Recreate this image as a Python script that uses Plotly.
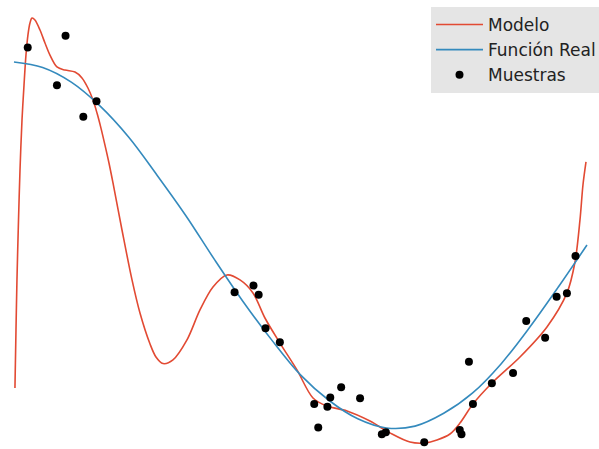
import plotly.graph_objects as go

# Sample points (x, y)
muestras_x = [0.024, 0.075, 0.090, 0.121, 0.144, 0.385, 0.418, 0.427, 0.439, 0.464,
              0.524, 0.531, 0.547, 0.552, 0.571, 0.604, 0.642, 0.649, 0.716, 0.778,
              0.781, 0.794, 0.801, 0.834, 0.871, 0.894, 0.927, 0.947, 0.965, 0.980]
muestras_y = [1.080, 0.873, 1.144, 0.701, 0.786, -0.258, -0.222, -0.272, -0.455, -0.532,
              -0.869, -0.998, -0.884, -0.834, -0.778, -0.838, -1.034, -1.024, -1.078, -1.011,
              -1.034, -0.638, -0.869, -0.756, -0.699, -0.415, -0.507, -0.283, -0.264, -0.060]

# True function sampled along x
real_x = [0.00, 0.05, 0.10, 0.15, 0.20, 0.25, 0.30, 0.35, 0.40, 0.45, 0.50,
          0.55, 0.60, 0.65, 0.70, 0.75, 0.80, 0.85, 0.90, 0.95, 1.00]
real_y = [1.00, 0.97, 0.89, 0.76, 0.59, 0.38, 0.16, -0.08, -0.31, -0.52, -0.71,
          -0.85, -0.95, -1.00, -0.99, -0.92, -0.81, -0.65, -0.45, -0.23, 0.00]

# Fitted model curve
modelo_x = [0.0017, 0.0035, 0.0052, 0.0079, 0.0105, 0.0140, 0.0175, 0.0209, 0.0244, 0.0279,
            0.0314, 0.0366, 0.0454, 0.0541, 0.0628, 0.0750, 0.0890, 0.1065, 0.1187, 0.1291,
            0.1379, 0.1449, 0.1518, 0.1588, 0.1658, 0.1728, 0.1885, 0.2060, 0.2199, 0.2373,
            0.2478, 0.2600, 0.2775, 0.3019,
            0.3246, 0.3473, 0.3717, 0.3944, 0.4171, 0.4380, 0.4642, 0.4939, 0.5218, 0.5462,
            0.5812, 0.6213, 0.6562, 0.6911, 0.7173, 0.7382, 0.7609, 0.7784, 0.8010, 0.8342,
            0.8831, 0.9302, 0.9651, 0.9791, 0.9878, 0.9930, 0.9983]
modelo_y = [-0.781, -0.464, -0.191, 0.137, 0.410, 0.683, 0.874, 1.038, 1.148, 1.213,
            1.240, 1.230, 1.175, 1.104, 1.038, 0.973, 0.956, 0.945, 0.913, 0.858,
            0.792, 0.721, 0.639, 0.546, 0.448, 0.339, 0.082, -0.191, -0.372, -0.540,
            -0.612, -0.648, -0.628, -0.519,
            -0.355, -0.230, -0.164, -0.191, -0.262, -0.399, -0.536, -0.683, -0.836, -0.880,
            -0.907, -0.962, -1.027, -1.077, -1.082, -1.066, -1.033, -0.973, -0.869, -0.754,
            -0.612, -0.448, -0.262, -0.093, 0.137, 0.328, 0.454]

fig = go.Figure()
fig.add_trace(go.Scatter(x=modelo_x, y=modelo_y, mode="lines", name="Modelo",
                         line=dict(color="#E24A33", width=1.6, shape="spline", smoothing=0.9)))
fig.add_trace(go.Scatter(x=real_x, y=real_y, mode="lines", name="Función Real",
                         line=dict(color="#348ABD", width=1.6, shape="spline")))
fig.add_trace(go.Scatter(x=muestras_x, y=muestras_y, mode="markers", name="Muestras",
                         marker=dict(color="black", size=8)))

fig.update_layout(
    width=599, height=449,
    margin=dict(l=0, r=0, t=0, b=0, autoexpand=False),
    paper_bgcolor="white", plot_bgcolor="white",
    xaxis=dict(visible=False, range=[-0.0244, 1.021]),
    yaxis=dict(visible=False, range=[-1.115, 1.339]),
    legend=dict(x=431 / 599, y=1 - 7 / 449, xanchor="left", yanchor="top",
                bgcolor="#E5E5E5", borderwidth=0, itemwidth=47,
                font=dict(family="DejaVu Sans", size=17, color="#222222")),
    showlegend=True,
)

fig.write_html("out.html")
